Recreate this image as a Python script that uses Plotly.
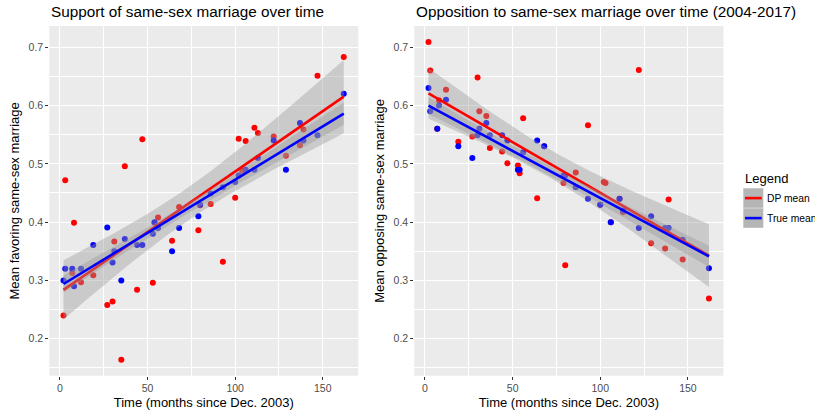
import numpy as np
import plotly.graph_objects as go

# ---------------- data ----------------
# Left panel: support
sup_dp_months = [2, 3, 7, 8, 12, 19, 27, 30, 31, 35, 37, 44, 47, 53, 54, 56, 64, 68, 79, 80, 86, 93,
                 100, 102, 104, 106, 111, 113, 122, 129, 137, 139, 147, 162]
sup_dp_values = [0.240, 0.472, 0.313, 0.399, 0.297, 0.309, 0.258, 0.264, 0.367, 0.164, 0.496, 0.284,
                 0.542, 0.296, 0.399, 0.408, 0.368, 0.426, 0.386, 0.429, 0.431, 0.332,
                 0.442, 0.543, 0.488, 0.539, 0.562, 0.553, 0.547, 0.514, 0.532, 0.559, 0.651, 0.683]
sup_true_months = [2, 3, 7, 8, 12, 19, 27, 30, 31, 35, 37, 44, 47, 53, 54, 56, 64, 68, 79, 80, 86, 93,
                   100, 102, 106, 111, 113, 122, 129, 137, 139, 147, 162]
sup_true_values = [0.300, 0.320, 0.320, 0.290, 0.320, 0.361, 0.391, 0.331, 0.350, 0.300, 0.371, 0.361,
                   0.361, 0.380, 0.400, 0.390, 0.350, 0.390, 0.410, 0.430, 0.449, 0.460,
                   0.469, 0.480, 0.490, 0.490, 0.510, 0.540, 0.490, 0.570, 0.540, 0.549, 0.620]

# Right panel: opposition
opp_dp_months = [2, 3, 7, 8, 12, 19, 27, 30, 31, 35, 37, 44, 47, 53, 54, 56, 64, 68, 79, 80, 86, 93,
                 100, 102, 103, 106, 111, 113, 122, 129, 137, 139, 147, 162]
opp_dp_values = [0.709, 0.660, 0.560, 0.609, 0.627, 0.538, 0.547, 0.648, 0.590, 0.582, 0.527, 0.521,
                 0.501, 0.497, 0.484, 0.578, 0.441, 0.530, 0.467, 0.326, 0.485, 0.566,
                 0.430, 0.469, 0.467, 0.400, 0.440, 0.417, 0.661, 0.364, 0.355, 0.439, 0.336, 0.269]
opp_true_months = [2, 3, 7, 8, 12, 19, 27, 30, 31, 35, 37, 44, 47, 53, 54, 56, 64, 68, 79, 80, 86, 93,
                   100, 106, 111, 113, 122, 129, 137, 139, 147, 162]
opp_true_values = [0.630, 0.590, 0.560, 0.600, 0.610, 0.530, 0.510, 0.549, 0.560, 0.570, 0.549, 0.549,
                   0.540, 0.490, 0.490, 0.520, 0.540, 0.530, 0.480, 0.480, 0.460, 0.440,
                   0.430, 0.400, 0.440, 0.420, 0.390, 0.410, 0.390, 0.390, 0.370, 0.321]

x_ticks = [0, 50, 100, 150]
y_ticks = [0.2, 0.3, 0.4, 0.5, 0.6, 0.7]
series_names = ["DP mean", "True mean"]
series_colors = ["#FF0000", "#0000FF"]

W, H = 815, 412
FONT = "Liberation Sans, Arial, Helvetica, sans-serif"


def t_quantile(df, z=1.959963985):
    # Cornish-Fisher expansion for the 97.5% Student t quantile
    return (z + (z**3 + z) / (4 * df) + (5 * z**5 + 16 * z**3 + 3 * z) / (96 * df**2)
            + (3 * z**7 + 19 * z**5 + 17 * z**3 - 15 * z) / (384 * df**3))


def lm_band(x, y, n=80):
    x = np.asarray(x, float)
    y = np.asarray(y, float)
    X = np.column_stack([np.ones_like(x), x])
    beta, *_ = np.linalg.lstsq(X, y, rcond=None)
    resid = y - X @ beta
    df = len(x) - 2
    s2 = resid @ resid / df
    XtXi = np.linalg.inv(X.T @ X)
    xs = np.linspace(x.min(), x.max(), n)
    Xs = np.column_stack([np.ones_like(xs), xs])
    fit = Xs @ beta
    se = np.sqrt(s2 * np.einsum("ij,jk,ik->i", Xs, XtXi, Xs))
    t = t_quantile(df)
    return xs, fit, fit - t * se, fit + t * se


fig = go.Figure()

panels = [
    ("x", "y", [(sup_dp_months, sup_dp_values), (sup_true_months, sup_true_values)]),
    ("x2", "y2", [(opp_dp_months, opp_dp_values), (opp_true_months, opp_true_values)]),
]

for xa, ya, series in panels:
    # points first
    for (mx, vy), name, col in zip(series, series_names, series_colors):
        fig.add_trace(go.Scatter(x=mx, y=vy, mode="markers", xaxis=xa, yaxis=ya,
                                 marker=dict(color=col, size=6, line=dict(width=0)),
                                 showlegend=False, name=name))
    # smooths on top (ribbon then line per group)
    for (mx, vy), name, col in zip(series, series_names, series_colors):
        xs, fit, lo, hi = lm_band(mx, vy)
        fig.add_trace(go.Scatter(x=np.concatenate([xs, xs[::-1]]),
                                 y=np.concatenate([hi, lo[::-1]]),
                                 fill="toself", fillcolor="rgba(153,153,153,0.4)",
                                 line=dict(width=0), mode="lines", xaxis=xa, yaxis=ya,
                                 hoverinfo="skip", showlegend=False))
        fig.add_trace(go.Scatter(x=xs, y=fit, mode="lines", xaxis=xa, yaxis=ya,
                                 line=dict(color=col, width=2.6), showlegend=False, name=name))

ydom = [1 - 375.7 / H, 1 - 26 / H]
xdom1 = [49.3 / W, 358.3 / W]
xdom2 = [414.3 / W, 723.5 / W]

common_x = dict(range=[-6.1, 170.3], tickvals=x_ticks, ticks="outside", ticklen=3,
                tickcolor="#333333", tickwidth=1, showgrid=True, gridcolor="white",
                gridwidth=1.1, zeroline=False, showline=False,
                tickfont=dict(size=10.5, color="#4D4D4D", family=FONT),
                minor=dict(dtick=25, tick0=0, showgrid=True, gridcolor="white", gridwidth=0.5),
                title=dict(text="Time (months since Dec. 2003)", font=dict(size=13, color="black", family=FONT),
                           standoff=4))
common_y = dict(range=[0.1367, 0.7363], tickvals=y_ticks, tickformat=".1f", ticks="outside",
                ticklen=3, tickcolor="#333333", tickwidth=1, showgrid=True, gridcolor="white",
                gridwidth=1.1, zeroline=False, showline=False, domain=ydom,
                tickfont=dict(size=10.5, color="#4D4D4D", family=FONT),
                minor=dict(dtick=0.05, tick0=0, showgrid=True, gridcolor="white", gridwidth=0.5))

fig.update_layout(
    width=W, height=H, margin=dict(l=0, r=0, t=0, b=0),
    paper_bgcolor="white", plot_bgcolor="#EBEBEB",
    font=dict(family=FONT),
    showlegend=False,
    xaxis=dict(domain=xdom1, anchor="y", **common_x),
    xaxis2=dict(domain=xdom2, anchor="y2", **common_x),
    yaxis=dict(anchor="x", title=dict(text="Mean favoring same-sex marriage",
                                      font=dict(size=13, color="black", family=FONT), standoff=6),
               **common_y),
    yaxis2=dict(anchor="x2", title=dict(text="Mean opposing same-sex marriage",
                                        font=dict(size=13, color="black", family=FONT), standoff=6),
                **common_y),
)

# plot titles
fig.add_annotation(text="Support of same-sex marriage over time", xref="paper", yref="paper",
                   x=49.3 / W, y=1 - 12 / H, xanchor="left", yanchor="middle", showarrow=False,
                   font=dict(size=15.3, color="black", family=FONT))
fig.add_annotation(text="Opposition to same-sex marriage over time (2004-2017)", xref="paper", yref="paper",
                   x=414.3 / W, y=1 - 12 / H, xanchor="left", yanchor="middle", showarrow=False,
                   font=dict(size=15.3, color="black", family=FONT))

# legend (ggplot-style key boxes)
fig.add_annotation(text="Legend", xref="paper", yref="paper", x=743.3 / W, y=1 - 179 / H,
                   xanchor="left", yanchor="middle", showarrow=False,
                   font=dict(size=13, color="black", family=FONT))
key_tops = [188.3, 208.3]
for top, name, col in zip(key_tops, series_names, series_colors):
    fig.add_shape(type="rect", xref="paper", yref="paper", x0=743.3 / W, x1=763.3 / W,
                  y0=1 - (top + 19.5) / H, y1=1 - top / H, fillcolor="#B5B5B5",
                  line=dict(width=0), layer="above")
    mid = top + 9.8
    fig.add_shape(type="line", xref="paper", yref="paper", x0=745 / W, x1=761.7 / W,
                  y0=1 - mid / H, y1=1 - mid / H, line=dict(color=col, width=2.6), layer="above")
    fig.add_annotation(text=name, xref="paper", yref="paper", x=765 / W, y=1 - mid / H,
                       xanchor="left", yanchor="middle", showarrow=False,
                       font=dict(size=10.3, color="black", family=FONT))

fig.write_html("out.html", config={"displayModeBar": False},
               post_script="document.body.style.margin='0';document.body.style.overflow='hidden';")
